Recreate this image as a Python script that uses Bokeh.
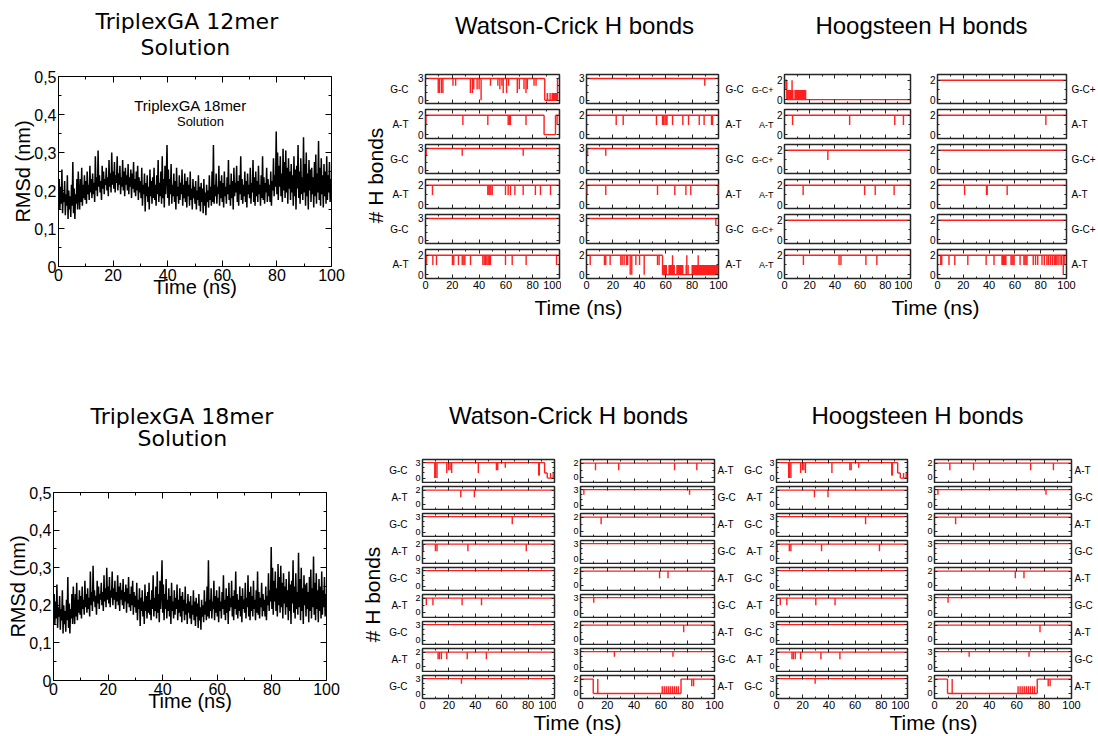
import math
import numpy as np
from bokeh.plotting import figure
from bokeh.layouts import row, column
from bokeh.models import Range1d, FixedTicker, Label, LinearAxis
from bokeh.core.properties import value
from bokeh.embed import file_html
from bokeh.resources import INLINE

FONT = "Liberation Sans"
TITLE_FONT = "DejaVu Sans"
RED = "#ff1f1f"
FRAME = "#262626"

# ---------------- data ----------------
RMSD_STEP_NS = 0.25
RMSD_MILLI_NM = [
    175, 230, 150, 210, 165, 255, 140, 195, 170, 225,
    135, 190, 160, 240, 125, 200, 150, 185, 130, 215,
    160, 275, 140, 205, 125, 190, 165, 230, 150, 250,
    185, 150, 230, 170, 260, 160, 215, 180, 240, 175,
    225, 165, 250, 190, 215, 175, 265, 195, 230, 180,
    245, 190, 220, 170, 290, 200, 235, 185, 305, 210,
    240, 195, 225, 175, 265, 205, 250, 190, 230, 215,
    260, 200, 235, 185, 280, 210, 245, 195, 300, 215,
    250, 205, 275, 195, 240, 220, 290, 200, 245, 215,
    265, 190, 235, 210, 280, 200, 250, 185, 260, 215,
    240, 200, 270, 190, 235, 210, 255, 180, 245, 205,
    275, 195, 230, 185, 250, 200, 265, 175, 235, 195,
    225, 180, 260, 160, 215, 190, 245, 145, 220, 185,
    240, 170, 210, 150, 255, 185, 225, 165, 235, 180,
    260, 175, 215, 160, 240, 190, 280, 170, 220, 185,
    250, 165, 290, 180, 230, 155, 265, 190, 240, 320,
    180, 255, 160, 230, 190, 270, 165, 215, 185, 245,
    170, 225, 150, 260, 185, 210, 165, 240, 175, 220,
    190, 255, 160, 215, 180, 245, 170, 225, 155, 235,
    185, 215, 160, 250, 175, 205, 150, 230, 180, 210,
    165, 225, 150, 200, 175, 240, 160, 210, 145, 220,
    170, 205, 140, 230, 160, 195, 135, 215, 170, 200,
    155, 240, 175, 210, 160, 250, 170, 320, 165, 215,
    185, 245, 165, 210, 190, 265, 160, 225, 180, 240,
    170, 220, 155, 250, 185, 210, 165, 235, 190, 280,
    175, 215, 160, 245, 180, 225, 150, 260, 185, 220,
    195, 265, 170, 225, 160, 240, 190, 290, 175, 230,
    165, 215, 185, 250, 170, 225, 155, 245, 190, 215,
    180, 260, 165, 220, 195, 280, 170, 235, 160, 250,
    185, 225, 170, 265, 190, 215, 160, 240, 180, 290,
    175, 235, 165, 220, 195, 260, 170, 230, 185, 215,
    170, 250, 160, 225, 200, 285, 185, 240, 210, 355,
    190, 300, 175, 265, 210, 290, 185, 245, 170, 310,
    200, 275, 180, 305, 195, 260, 165, 285, 205, 250,
    175, 270, 195, 240, 160, 290, 185, 255, 150, 265,
    205, 320, 180, 250, 165, 285, 190, 235, 175, 340,
    195, 270, 160, 300, 185, 245, 150, 280, 200, 255,
    170, 260, 190, 235, 155, 275, 185, 295, 165, 245,
    195, 330, 175, 260, 160, 285, 190, 240, 155, 270,
    185, 250, 165, 290, 175, 240, 195, 275, 170, 230,
]
RMSD_TICKS = [0, 0.1, 0.2, 0.3, 0.4, 0.5]
RMSD_TICK_LABELS = ["0", "0,1", "0,2", "0,3", "0,4", "0,5"]
RMSD_MINOR = [0.05, 0.15, 0.25, 0.35, 0.45]
TIME_TICKS = [0, 20, 40, 60, 80, 100]
TIME_MINOR = [10, 30, 50, 70, 90]
MAX_BONDS = {"G-C": 3, "A-T": 2, "G-C+": 2}

# spikes: (time ns, value reached); levels: (t0, t1, value); bands: (t0, t1, low, high)
TOP_WC_L_PAIRS = ["G-C", "A-T", "G-C", "A-T", "G-C", "A-T"]
TOP_WC_L_SPIKES = [
    [(9.5, 1), (10.5, 1), (12, 1), (13, 1), (20.5, 2), (22.5, 2), (33.5, 1), (35, 1), (36, 1.5),
     (38.5, 1.5), (40, 1.5), (41.5, 0), (48.5, 2), (54, 2), (55.5, 1.5), (57, 2), (58, 1), (60.5, 1),
     (62, 2), (68.5, 1), (70, 1.5), (73.5, 1.5), (75, 1), (76, 1.5), (81, 2), (82.5, 2), (91, 1), (93, 1)],
    [(0.3, 1), (27.9, 1), (46.5, 1), (61.7, 1), (62.6, 1), (63.4, 1), (75, 1), (98.2, 1)],
    [(0.5, 2), (27.4, 2), (72.9, 2)],
    [(5.2, 1), (46.5, 1), (47.3, 1), (48, 1), (48.8, 1), (49.8, 1), (59.7, 1), (61.7, 1), (63.4, 1),
     (66.7, 1), (72.9, 1), (82, 1), (85.8, 1), (93.3, 1)],
    [],
    [(0.7, 1), (5.5, 1), (8.2, 1), (20.1, 1), (21.1, 1), (24.6, 1), (27.4, 1), (28.6, 1), (29.4, 1),
     (33.6, 1), (42.8, 1), (43.8, 1), (44.8, 1), (45.8, 1), (46.8, 1), (47.8, 1), (48.5, 1), (59.7, 1),
     (64.7, 1), (75.1, 1), (97.8, 1)],
]
TOP_WC_L_LEVELS = [[(0, 89, 3), (89, 98.5, 0), (98.5, 100, 3)],
                   [(0, 88.5, 2), (88.5, 97, 0), (97, 100, 2)], [], [], [], []]
TOP_WC_L_BANDS = [[(90.5, 91.5, 0, 1), (94, 98.5, 0, 1)], [], [], [], [], []]

TOP_WC_R_PAIRS = ["G-C", "A-T", "G-C", "A-T", "G-C", "A-T"]
TOP_WC_R_SPIKES = [
    [(89.6, 2)],
    [(22.5, 1), (27.8, 1), (53, 1), (57.6, 1), (58.5, 1), (59.5, 1), (60.3, 1), (61, 1), (65.2, 1),
     (73, 1), (77.3, 1), (85.4, 1), (89.1, 1), (94.7, 1), (95.5, 1)],
    [(0.8, 2), (14.6, 2)],
    [(0.3, 1), (14.6, 1), (53.8, 1), (66.9, 1), (75.3, 1), (79, 1), (99.7, 1)],
    [(98, 2)],
    [(2.8, 1), (13.6, 1), (14.6, 1), (17.9, 1), (26, 1), (27, 1), (28.5, 1), (30.3, 1), (31.2, 1),
     (33.1, 0), (34.3, 0), (37.4, 1), (40.2, 1), (43.7, 0), (53.8, 1), (55, 1), (65.2, 2), (75.5, 1),
     (76, 2), (77, 1), (84.6, 2)],
]
TOP_WC_R_LEVELS = [[], [], [], [], [], [(0, 57.6, 2), (57.6, 100, 0)]]
TOP_WC_R_BANDS = [[], [], [], [], [], [(58, 61, 0, 1), (62, 67, 0, 1), (68, 73.5, 0, 1), (79.5, 100, 0, 1)]]

TOP_HG_L_PAIRS = ["G-C+", "A-T", "G-C+", "A-T", "G-C+", "A-T"]
TOP_HG_L_SPIKES = [
    [(1.2, 1), (6, 2)],
    [(6.4, 1), (51.7, 1), (87.5, 1), (94.4, 1)],
    [(34.4, 1)],
    [(14.8, 1), (63.6, 1), (72, 1), (87, 1)],
    [],
    [(15, 1), (43.3, 1), (44.8, 1), (64.6, 1), (73.3, 1)],
]
TOP_HG_L_LEVELS = [[(0, 1.8, 2), (1.8, 100, 0)], [], [], [], [], []]
TOP_HG_L_BANDS = [[(2, 7.2, 0, 1), (7.8, 17.3, 0, 1)], [], [], [], [], []]

TOP_HG_R_PAIRS = ["G-C+", "A-T", "G-C+", "A-T", "G-C+", "A-T"]
TOP_HG_R_SPIKES = [
    [],
    [(84, 1)],
    [],
    [(21, 1), (38, 1), (38.5, 1), (54, 1)],
    [],
    [(2.5, 1), (3.3, 1), (8.9, 1), (13.4, 1), (23.5, 1), (37.7, 1), (43.8, 1), (50, 1), (50.6, 1),
     (51.2, 1), (51.8, 1), (52.4, 1), (53, 1), (57, 1), (57.8, 1), (58.6, 1), (59.4, 1), (64, 1),
     (67, 1), (67.8, 1), (68.6, 1), (69.4, 1), (74.2, 1), (76, 1), (77.7, 1), (81, 1), (82.8, 1),
     (84.8, 1), (86, 1), (87.5, 1), (89, 1), (90.5, 1), (91.5, 1), (92.5, 1), (93.5, 1), (95, 1),
     (96.2, 1), (97.5, 0), (98.7, 1)],
]
TOP_HG_R_LEVELS = [[], [], [], [], [], []]
TOP_HG_R_BANDS = [[], [], [], [], [], []]

BOT_L_PAIRS = ["G-C", "A-T", "G-C", "A-T", "G-C", "A-T", "G-C", "A-T", "G-C"]
BOT_L_SPIKES = [
    [(9.3, 0), (10, 0), (11, 0), (18.4, 1), (19.7, 1.5), (20.9, 1.5), (22.1, 1), (42.3, 1), (56, 1.5),
     (57, 1.5), (62.7, 2), (88, 0.5), (88.5, 0.5), (97, 1), (99, 1)],
    [(29, 1), (39.3, 1)],
    [(68, 1.5)],
    [(0.5, 1), (9.8, 1), (11, 1), (34.4, 1), (78.6, 1)],
    [],
    [(2.9, 1), (7.9, 1), (30, 1), (44.7, 1)],
    [],
    [(11.8, 1), (12.8, 1), (14.3, 1), (18.4, 1), (33.9, 1), (48.4, 1)],
    [(29.5, 2)],
]
BOT_L_LEVELS = [[(0, 92.5, 3), (92.5, 94.5, 1), (94.5, 100, 0)], [], [], [], [], [], [], [], []]
BOT_L_BANDS = [[], [], [], [], [], [], [], [], []]

BOT_R_PAIRS = ["A-T", "G-C", "A-T", "G-C", "A-T", "G-C", "A-T", "G-C", "A-T"]
BOT_R_SPIKES = [
    [(11.2, 1), (28.5, 1), (70.2, 1), (86.8, 1)],
    [(2.5, 2), (81.4, 2)],
    [(15.4, 1)],
    [],
    [(59, 1), (65.3, 1)],
    [(9.9, 2)],
    [(77, 1)],
    [(25.3, 2), (69, 2)],
    [(12.9, 2), (61, 1), (62.5, 1), (64, 1), (65.5, 1), (67, 1), (68.5, 1), (70, 1), (71.5, 1), (73, 1),
     (83, 1), (84.4, 1)],
]
BOT_R_LEVELS = [[], [], [], [], [], [], [], [], [(0, 9.5, 2), (9.5, 75, 0), (75, 100, 2)]]
BOT_R_BANDS = [[], [], [], [], [], [], [], [], []]

TOP_YRANGE = {3: (-0.45, 3.55), 2: (-0.4, 2.6)}
BOT_YRANGE = {3: (-0.85, 3.6), 2: (-0.7, 2.5)}


# ---------------- helpers ----------------
def style_axis(ax, show_labels, size, tick_in=4, minor_in=2, color=FRAME):
    ax.major_tick_in = tick_in
    ax.major_tick_out = 0
    ax.minor_tick_in = minor_in
    ax.minor_tick_out = 0
    ax.axis_line_color = None
    ax.major_tick_line_color = color
    ax.minor_tick_line_color = color
    if show_labels:
        ax.major_label_text_font = FONT
        ax.major_label_text_font_size = size
        ax.major_label_text_color = "black"
        ax.major_label_standoff = 2
    else:
        ax.major_label_text_font_size = "0px"
        ax.major_label_text_color = None
        ax.major_label_standoff = 0


def add_row_label(p, side, pair, base, standoff, size):
    t = FixedTicker(ticks=[base / 2], minor_ticks=[])
    ax = LinearAxis(ticker=t, major_label_overrides={base / 2: pair})
    ax.axis_line_color = None
    ax.major_tick_line_color = None
    ax.minor_tick_line_color = None
    ax.major_tick_in = 0
    ax.major_tick_out = 0
    ax.minor_tick_in = 0
    ax.minor_tick_out = 0
    ax.major_label_standoff = standoff
    ax.major_label_text_font = FONT
    ax.major_label_text_font_size = size
    ax.major_label_text_color = "black"
    p.add_layout(ax, side)


def text_fig(w, h, items, bl=0, br=0):
    # frame spans [bl, w - br]; x coordinates are pixels from the figure's left edge
    p = figure(width=w, height=h, x_range=Range1d(bl, w - br), y_range=Range1d(0, h),
               x_axis_type=None, y_axis_type=None, toolbar_location=None,
               output_backend="svg", min_border=0, min_border_left=bl, min_border_right=br,
               min_border_top=0, min_border_bottom=0, outline_line_color=None)
    for (x, y, s, size, font, angle, align) in items:
        p.text(x=[x], y=[h - y], text=[s], text_font=value(font), text_font_size=f"{size}px",
               text_align=align, text_baseline="middle", angle=angle, text_color="black")
    return p


def hb_panel(pair, spikes, levels, bands, w, h, bl, br, bt, bb, xlabels, side, off, lsize,
             yranges, ysize):
    base = MAX_BONDS[pair]
    yr = yranges[base]
    p = figure(width=w, height=h, x_range=Range1d(0, 100), y_range=Range1d(*yr),
               output_backend="svg", toolbar_location=None,
               min_border_left=bl, min_border_right=br, min_border_top=bt, min_border_bottom=bb)
    p.outline_line_color = FRAME
    p.outline_line_width = 1.5
    p.xgrid.visible = False
    p.ygrid.visible = False
    lv = levels if levels else [(0, 100, base)]

    def level_at(t):
        for a, b, v in lv:
            if a <= t <= b:
                return v
        return base

    if bands:
        p.quad(left=[b[0] for b in bands], right=[b[1] for b in bands],
               bottom=[b[2] for b in bands], top=[b[3] for b in bands],
               fill_color=RED, line_color=None)
    x0, y0, x1, y1 = [], [], [], []
    for a, b, v in lv:
        x0.append(a); y0.append(v); x1.append(b); y1.append(v)
    for i in range(len(lv) - 1):
        if lv[i][2] != lv[i + 1][2]:
            x0.append(lv[i][1]); y0.append(lv[i][2]); x1.append(lv[i][1]); y1.append(lv[i + 1][2])
    for t, v in spikes:
        x0.append(t); y0.append(level_at(t)); x1.append(t); y1.append(v)
    p.segment(x0=x0, y0=y0, x1=x1, y1=y1, line_color=RED, line_width=1.4)

    xt = FixedTicker(ticks=TIME_TICKS, minor_ticks=TIME_MINOR)
    yt = FixedTicker(ticks=[0, base], minor_ticks=list(range(1, base)))
    p.xaxis.ticker = xt
    p.yaxis.ticker = yt
    style_axis(p.xaxis[0], xlabels, "11px")
    style_axis(p.yaxis[0], True, ysize, tick_in=3)
    ax_t = LinearAxis(ticker=xt)
    ax_r = LinearAxis(ticker=yt)
    style_axis(ax_t, False, "0px")
    style_axis(ax_r, False, "0px", tick_in=3)
    p.add_layout(ax_t, "above")
    p.add_layout(ax_r, "right")
    add_row_label(p, side, pair, base, off, lsize)
    return p


def panel_column(pairs, spikes, levels, bands, w, bl, br, side, off, lsize, frame_h, bt, bb, last_bb,
                 yranges, ysize):
    figs = []
    n = len(pairs)
    for i in range(n):
        last = i == n - 1
        b = last_bb if last else bb
        figs.append(hb_panel(pairs[i], spikes[i], levels[i], bands[i], w, bt + frame_h + b,
                             bl, br, bt, b, last, side, off, lsize, yranges, ysize))
    return column(figs, spacing=0)


def rmsd_figure(h, bt, fh, bl, fw, inner):
    t = np.arange(len(RMSD_MILLI_NM)) * RMSD_STEP_NS
    v = np.array(RMSD_MILLI_NM) / 1000.0
    p = figure(width=362, height=h, x_range=Range1d(0, 100), y_range=Range1d(0, 0.5),
               output_backend="svg", toolbar_location=None,
               min_border_top=bt, min_border_bottom=h - bt - fh,
               min_border_left=bl, min_border_right=362 - bl - fw)
    p.xgrid.visible = False
    p.ygrid.visible = False
    p.outline_line_color = "black"
    p.outline_line_width = 1
    p.line(t, v, line_color="black", line_width=1.5)
    xt = FixedTicker(ticks=TIME_TICKS, minor_ticks=TIME_MINOR)
    yt = FixedTicker(ticks=RMSD_TICKS, minor_ticks=RMSD_MINOR)
    p.xaxis.ticker = xt
    p.yaxis.ticker = yt
    style_axis(p.xaxis[0], True, "16px", tick_in=6, minor_in=3, color="black")
    style_axis(p.yaxis[0], True, "16px", tick_in=6, minor_in=3, color="black")
    p.yaxis.major_label_overrides = dict(zip(RMSD_TICKS, RMSD_TICK_LABELS))
    p.xaxis.axis_label = "Time (ns)"
    p.yaxis.axis_label = "RMSd (nm)"
    for ax in (p.xaxis[0], p.yaxis[0]):
        ax.axis_label_text_font = FONT
        ax.axis_label_text_font_size = "20px"
        ax.axis_label_text_font_style = "normal"
        ax.axis_label_text_color = "black"
    p.xaxis.axis_label_standoff = -8
    p.yaxis.axis_label_standoff = -3
    ax_t = LinearAxis(ticker=xt)
    ax_r = LinearAxis(ticker=yt)
    style_axis(ax_t, False, "0px", tick_in=6, minor_in=3, color="black")
    style_axis(ax_r, False, "0px", tick_in=6, minor_in=3, color="black")
    p.add_layout(ax_t, "above")
    p.add_layout(ax_r, "right")
    if inner:
        p.add_layout(Label(x=48.4, y=0.424, text="TriplexGA 18mer", text_align="center",
                           text_baseline="middle", text_font=FONT, text_font_size="15px",
                           text_color="black"))
        p.add_layout(Label(x=52, y=0.382, text="Solution", text_align="center",
                           text_baseline="middle", text_font=FONT, text_font_size="13px",
                           text_color="black"))
    return p


# ---------------- top section (y 0..330) ----------------
rmsd_top = column(
    text_fig(362, 62, [(95, 21, "TriplexGA 12mer", 22, TITLE_FONT, 0, "left"),
                       (140, 47, "Solution", 22, TITLE_FONT, 0, "left")], bl=58, br=31),
    rmsd_figure(268, 14, 190, 58, 273, True), spacing=0)

hb_top = text_fig(24, 330, [(13, 175, "# H bonds", 21, FONT, math.pi / 2, "center")])

wc_top = column(
    text_fig(362, 71, [(188, 25, "Watson-Crick H bonds", 24, FONT, 0, "center")]),
    row(panel_column(TOP_WC_L_PAIRS, TOP_WC_L_SPIKES, TOP_WC_L_LEVELS, TOP_WC_L_BANDS,
                     175, 39, 2, "left", 6, "10px", 29, 3, 3, 18, TOP_YRANGE, "10px"),
        panel_column(TOP_WC_R_PAIRS, TOP_WC_R_SPIKES, TOP_WC_R_LEVELS, TOP_WC_R_BANDS,
                     187, 25, 30, "right", 7, "10px", 29, 3, 3, 18, TOP_YRANGE, "10px"), spacing=0),
    text_fig(362, 34, [(192, 11, "Time (ns)", 21, FONT, 0, "center")]), spacing=0)

hg_top = column(
    text_fig(350, 71, [(173, 25, "Hoogsteen H bonds", 24, FONT, 0, "center")]),
    row(panel_column(TOP_HG_L_PAIRS, TOP_HG_L_SPIKES, TOP_HG_L_LEVELS, TOP_HG_L_BANDS,
                     164, 31, 2, "left", 0, "9px", 29, 3, 3, 18, TOP_YRANGE, "10px"),
        panel_column(TOP_HG_R_PAIRS, TOP_HG_R_SPIKES, TOP_HG_R_LEVELS, TOP_HG_R_BANDS,
                     186, 25, 30, "right", 5, "10px", 29, 3, 3, 18, TOP_YRANGE, "10px"), spacing=0),
    text_fig(350, 34, [(187, 11, "Time (ns)", 21, FONT, 0, "center")]), spacing=0)

top = row(rmsd_top, hb_top, wc_top, hg_top, spacing=0)

# ---------------- bottom section (y 330..736) ----------------
rmsd_bot = column(
    text_fig(362, 140, [(90, 86, "TriplexGA 18mer", 22, TITLE_FONT, 0, "left"),
                        (137, 108, "Solution", 22, TITLE_FONT, 0, "left")], bl=53, br=36),
    rmsd_figure(266, 22, 188, 53, 273, False), spacing=0)

hb_bot = text_fig(24, 406, [(10, 264, "# H bonds", 21, FONT, math.pi / 2, "center")])

wc_bot = column(
    text_fig(355, 126, [(182, 85, "Watson-Crick H bonds", 24, FONT, 0, "center")]),
    row(panel_column(BOT_L_PAIRS, BOT_L_SPIKES, BOT_L_LEVELS, BOT_L_BANDS,
                     170, 32, 2, "left", 5, "10px", 23, 3, 1, 13, BOT_YRANGE, "9px"),
        panel_column(BOT_R_PAIRS, BOT_R_SPIKES, BOT_R_LEVELS, BOT_R_BANDS,
                     185, 24, 27, "right", 3, "10px", 23, 3, 1, 13, BOT_YRANGE, "9px"), spacing=0),
    text_fig(355, 25, [(191, 11, "Time (ns)", 21, FONT, 0, "center")]), spacing=0)

hg_bot = column(
    text_fig(357, 126, [(176, 85, "Hoogsteen H bonds", 24, FONT, 0, "center")]),
    row(panel_column(BOT_L_PAIRS, BOT_L_SPIKES, BOT_L_LEVELS, BOT_L_BANDS,
                     168, 30, 2, "left", 4, "10px", 23, 3, 1, 13, BOT_YRANGE, "9px"),
        panel_column(BOT_R_PAIRS, BOT_R_SPIKES, BOT_R_LEVELS, BOT_R_BANDS,
                     189, 25, 27, "right", 3, "10px", 23, 3, 1, 13, BOT_YRANGE, "9px"), spacing=0),
    text_fig(357, 25, [(192, 11, "Time (ns)", 21, FONT, 0, "center")]), spacing=0)

bottom = row(rmsd_bot, hb_bot, wc_bot, hg_bot, spacing=0)

layout = column(top, bottom, spacing=0)

with open("out.html", "w") as f:
    f.write(file_html(layout, INLINE, "TriplexGA H bonds"))
